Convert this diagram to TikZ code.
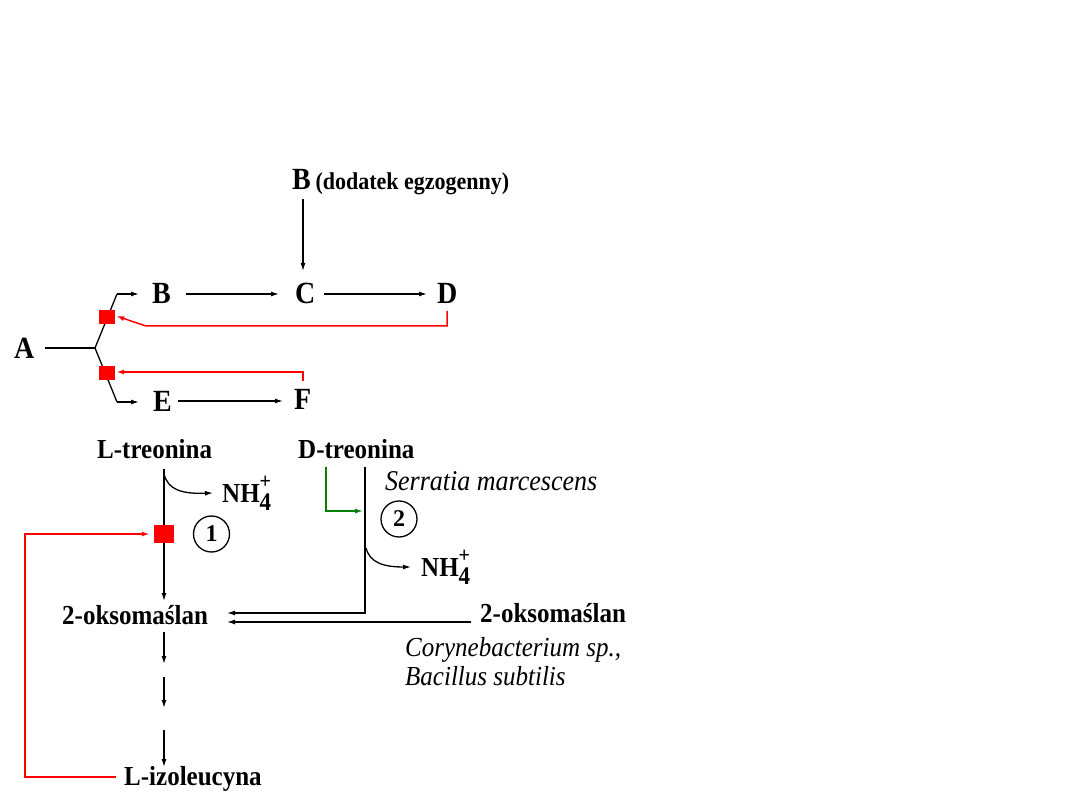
\documentclass[tikz,border=0pt]{standalone}
\usepackage{fontspec}
\usepackage{graphicx}
\setmainfont{Liberation Serif}
\usetikzlibrary{arrows.meta}
\newcommand{\tl}[1]{\scalebox{1}[1.1]{#1}}
\newcommand{\nhf}{NH\rlap{\raisebox{12pt}{\fontsize{20}{20}\selectfont +}}\raisebox{-8pt}{\fontsize{23}{23}\selectfont 4}}
\begin{document}
\begin{tikzpicture}[x=1pt,y=-1pt,
  lbl/.style={anchor=base west, inner sep=0pt, font=\bfseries\fontsize{25}{25}\selectfont},
  big/.style={anchor=base west, inner sep=0pt, font=\bfseries\fontsize{28}{28}\selectfont},
  ital/.style={anchor=base west, inner sep=0pt, font=\itshape\fontsize{25}{25}\selectfont},
  arr/.style={line width=1.3pt, -{Latex[length=8pt,width=5pt]}},
  ln/.style={line width=1.3pt},
  redarr/.style={line width=1.5pt, red, -{Latex[length=8pt,width=5pt]}},
  greenarr/.style={line width=1.5pt, green!50!black, -{Latex[length=8pt,width=5pt]}},
  inh/.style={fill=red, inner sep=0pt},
  num/.style={circle, draw, line width=1.3pt, minimum size=36pt, inner sep=0pt, font=\bfseries\fontsize{24}{24}\selectfont}]
\fill[white] (0,0) rectangle (1080,810);
\useasboundingbox (0,0) rectangle (1080,810);

% ---------- top scheme ----------
\node[big] (Btop) at (292,190) {\tl{B\,{\fontsize{22}{22}\selectfont (dodatek egzogenny)}}};
\node[big] (B) at (152,304) {\tl{B}};
\node[big] (C) at (295,304) {\tl{C}};
\node[big] (D) at (437,304) {\tl{D}};
\node[big] (A) at (14,359) {\tl{A}};
\node[big] (E) at (153,412) {\tl{E}};
\node[big] (F) at (294,410) {\tl{F}};

\coordinate (k) at (95,348);
\coordinate (ub) at (117,294);
\coordinate (lb) at (117,402);
\coordinate (ua) at (139,294);
\coordinate (la) at (139,402);
\draw[ln] (A.east |- k) ++(10,0) coordinate (as) -- (k);
\draw[ln] (k) -- (ub);
\draw[arr] (ub) -- (ua);
\draw[ln] (k) -- (lb);
\draw[arr] (lb) -- (la);

\node[inh, minimum width=16pt, minimum height=14pt] (sq1) at (107,317) {};
\node[inh, minimum width=16pt, minimum height=14pt] (sq2) at (107,373) {};

\coordinate (bt1) at (303,199);
\coordinate (bt2) at (303,271);
\draw[arr] (bt1) -- (bt2);
\coordinate (bc1) at (186,294);
\coordinate (bc2) at (279,294);
\draw[arr] (bc1) -- (bc2);
\coordinate (cd1) at (324,294);
\coordinate (cd2) at (427,294);
\draw[arr] (cd1) -- (cd2);
\coordinate (ef1) at (178,401);
\coordinate (ef2) at (283,401);
\draw[arr] (ef1) -- (ef2);

\coordinate (dr) at (447,311);
\draw[redarr] (dr) -- (447,326) -- (146,326) -- ([xshift=1pt,yshift=1pt]sq1.east);
\coordinate (fr) at (303,381);
\draw[redarr] (fr) -- (303,372) -- ([xshift=1pt,yshift=1pt]sq2.east);

% ---------- bottom scheme ----------
\node[lbl] (Lt) at (97,458) {\tl{L-treonina}};
\node[lbl] (Dt) at (298,458) {\tl{D-treonina}};
\node[ital, font=\itshape\fontsize{26}{26}\selectfont] (ser) at (385,490) {\tl{Serratia marcescens}};
\node[lbl] (nh1) at (222,502) {\tl{\nhf}};
\node[lbl] (nh2) at (421,576) {\tl{\nhf}};
\node[lbl] (ok1) at (62,624) {\tl{2-oksomaślan}};
\node[lbl] (ok2) at (480,622) {\tl{2-oksomaślan}};
\node[ital] (cor) at (405,656) {\tl{Corynebacterium sp.,}};
\node[ital] (bac) at (405,685) {\tl{Bacillus subtilis}};
\node[lbl] (ile) at (124,785) {\tl{L-izoleucyna}};

\node[num] (n1) at (211.5,534) {1};
\node[num] (n2) at (399,519) {2};

% L-threonine branch
\coordinate (l1) at (164,469);
\coordinate (l2) at (164,601);
\draw[arr] (l1) -- (l2);
\coordinate (c1s) at (164,474);
\coordinate (c1e) at (213,493);
\draw[arr] (c1s) .. controls (168,490) and (182,494) .. (c1e);
\node[inh, minimum width=20pt, minimum height=18pt] (sq3) at (164,534) {};

% D-threonine branch
\coordinate (d1) at (365,467);
\coordinate (d2) at (365,613);
\coordinate (t1) at (227,613);
\draw[arr] (d1) -- (d2) -- (t1);
\coordinate (g1) at (326,467);
\coordinate (g2) at (326,511);
\coordinate (g3) at (363,511);
\draw[greenarr] (g1) -- (g2) -- (g3);
\coordinate (c2s) at (366,548);
\coordinate (c2e) at (411,567);
\draw[arr] (c2s) .. controls (370,563) and (384,567) .. (c2e);

% external 2-oxobutanoate
\coordinate (o1) at (471,622);
\coordinate (t2) at (227,622);
\draw[arr] (o1) -- (t2);

% segmented pathway to isoleucine
\coordinate (s1a) at (164,632);
\coordinate (s1b) at (164,664);
\coordinate (s2a) at (164,677);
\coordinate (s2b) at (164,708);
\coordinate (s3a) at (164,730);
\coordinate (s3b) at (164,767);
\draw[arr] (s1a) -- (s1b);
\draw[arr] (s2a) -- (s2b);
\draw[arr] (s3a) -- (s3b);

% feedback inhibition by isoleucine
\coordinate (ir) at (116,777);
\draw[redarr] (ir) -- (25,777) -- (25,534) -- ([xshift=-4pt]sq3.west);
\end{tikzpicture}
\end{document}
